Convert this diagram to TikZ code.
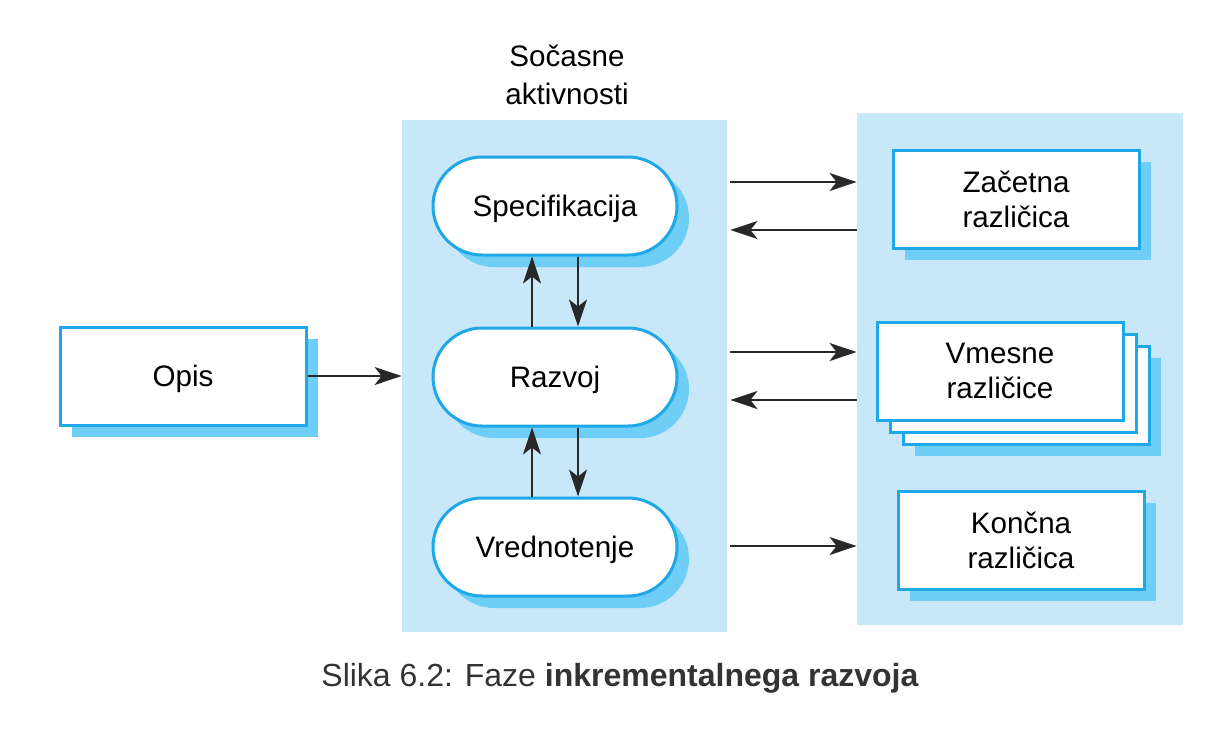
\documentclass[tikz,border=0pt]{standalone}
\usepackage{fontspec}
\setmainfont{Liberation Sans}
\usetikzlibrary{arrows.meta,shadows,calc}
\definecolor{bordc}{RGB}{30,168,232}
\definecolor{shadc}{RGB}{110,206,246}
\definecolor{panelc}{RGB}{200,232,250}
\definecolor{linec}{RGB}{40,40,40}
\definecolor{captc}{RGB}{51,51,51}
\tikzset{
  panelbox/.style={fill=panelc, draw=none, inner sep=0pt},
  basebox/.style={draw=bordc, line width=1.5pt, fill=white, align=center,
    font=\fontsize{14.8}{17.5}\selectfont, inner sep=0pt,
    drop shadow={fill=shadc, opacity=1, shadow xshift=6pt, shadow yshift=-6pt}},
  plainbox/.style={draw=bordc, line width=1.5pt, fill=white, align=center,
    font=\fontsize{14.8}{17.5}\selectfont, inner sep=0pt,
    minimum width=123pt, minimum height=49pt},
  rectbox/.style={basebox, minimum width=123pt, minimum height=49pt},
  roundbox/.style={basebox, rounded corners=24.5pt, minimum width=122pt, minimum height=49pt, text depth=0pt},
  oneline/.style={text depth=0pt},
  arr/.style={draw=linec, line width=1.1pt, -{Stealth[length=13.5pt, width=9pt, inset=3.5pt]}},
}
\begin{document}
\begin{tikzpicture}[x=0.5pt, y=-0.5pt]
\useasboundingbox (0,0) rectangle (1218,734);
% panels
\node[panelbox, minimum width=162.5pt, minimum height=256pt] (lp) at (564.5,376) {};
\node[panelbox, minimum width=163pt, minimum height=256pt] (rp) at (1020,369) {};
% title
\node[align=center, font=\fontsize{14.8}{19}\selectfont] (title) at (567,75) {Sočasne\\aktivnosti};
% activities
\node[roundbox] (spec) at (555,206) {Specifikacija};
\node[roundbox] (razv) at (555,377) {Razvoj};
\node[roundbox] (vred) at (555,547) {Vrednotenje};
% opis
\node[rectbox, oneline] (opis) at (183,376) {Opis};
% versions
\node[rectbox] (zac) at (1016,199) {Začetna\\različica};
\node[rectbox] (vm3) at (1026,395) {};
\node[plainbox] (vm2) at (1013,383) {};
\node[plainbox] (vm1) at (1000,371) {Vmesne\\različice};
\node[rectbox] (konc) at (1021,540) {Končna\\različica};
% arrows
\draw[arr] (opis.east) -- (lp.west);
\draw[arr] ([xshift=-11.5pt]razv.north) -- ([xshift=-11.5pt]spec.south);
\draw[arr] ([xshift=11.5pt]spec.south) -- ([xshift=11.5pt]razv.north);
\draw[arr] ([xshift=-11.5pt]vred.north) -- ([xshift=-11.5pt]razv.south);
\draw[arr] ([xshift=11.5pt]razv.south) -- ([xshift=11.5pt]vred.north);
\draw[arr] ([xshift=1.5pt,yshift=12pt]spec.east -| lp.east) -- ([yshift=12pt]spec.east -| rp.west);
\draw[arr] ([yshift=-12pt]spec.east -| rp.west) -- ([xshift=1.5pt,yshift=-12pt]spec.east -| lp.east);
\draw[arr] ([xshift=1.5pt,yshift=12.5pt]razv.east -| lp.east) -- ([yshift=12.5pt]razv.east -| rp.west);
\draw[arr] ([yshift=-11.5pt]razv.east -| rp.west) -- ([xshift=1.5pt,yshift=-11.5pt]razv.east -| lp.east);
\draw[arr] ([xshift=1.5pt,yshift=0.5pt]vred.east -| lp.east) -- ([yshift=0.5pt]vred.east -| rp.west);
% caption
\node[text=captc, font=\fontsize{16}{19}\selectfont] (cap) at (620,678) {Slika 6.2: Faze \textbf{inkrementalnega razvoja}};
\end{tikzpicture}
\end{document}
